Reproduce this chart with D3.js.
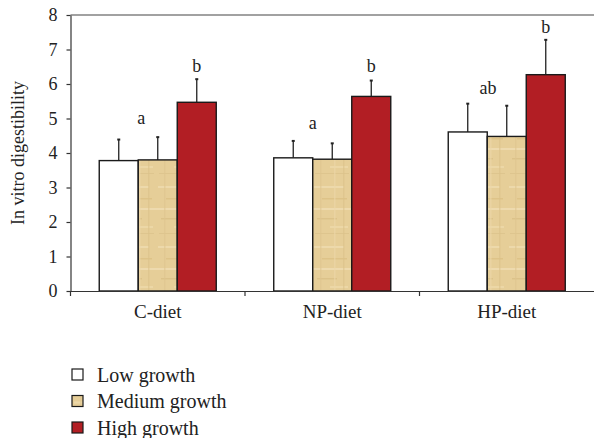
<!DOCTYPE html>
<html>
<head>
<meta charset="utf-8">
<script src="https://cdn.jsdelivr.net/npm/d3@7"></script>
<style>
  body { margin: 0; background: #fff; }
  svg { display: block; font-family: "Liberation Serif", "DejaVu Serif", serif; }
</style>
</head>
<body>
<svg id="chart" width="594" height="438"></svg>
<script>
const width = 594;
const height = 438;

const diets = ["C-diet", "NP-diet", "HP-diet"];
const groups = ["Low growth", "Medium growth", "High growth"];

// mean values per diet and growth group
const lowValues = [3.78, 3.86, 4.61];
const mediumValues = [3.80, 3.82, 4.48];
const highValues = [5.47, 5.64, 6.27];

// upper end of the error bars
const lowErr = [4.39, 4.35, 5.43];
const mediumErr = [4.46, 4.28, 5.37];
const highErr = [6.14, 6.10, 7.28];

// significance letters, the value height where they sit,
// and their place across the group (in bar widths from the first bar)
const letterText = [["a", "b"], ["a", "b"], ["ab", "b"]];
const letterAt = [[5.0, 6.52], [4.87, 6.52], [5.88, 7.65]];
const letterPlace = [[1.08, 2.5], [1.0, 2.5], [1.02, 2.5]];

const yTicks = [0, 1, 2, 3, 4, 5, 6, 7, 8];

const margin = { top: 15, right: 0, bottom: 147, left: 70.5 };
const svg = d3.select("#chart");

const x = d3.scaleBand()
  .domain(diets)
  .range([margin.left, width - margin.right]);

const xInner = d3.scaleBand()
  .domain(groups)
  .range([0, x.bandwidth()])
  .paddingOuter(0.737);

const y = d3.scaleLinear()
  .domain([0, 8])
  .range([height - margin.bottom, margin.top]);

const colors = { "Low growth": "#ffffff", "Medium growth": "url(#paper)", "High growth": "#b21e24" };

// paper-like texture for the medium bars
const defs = svg.append("defs");
const pat = defs.append("pattern")
  .attr("id", "paper")
  .attr("patternUnits", "userSpaceOnUse")
  .attr("width", 39).attr("height", 60);
pat.append("rect").attr("width", 39).attr("height", 60).attr("fill", "#e6ce98");
[[2, 6, 30, 2, "#efdcb0"], [10, 18, 25, 1.5, "#dcc185"], [0, 28, 39, 2, "#f0ddb4"],
 [5, 38, 20, 1.5, "#d9bf86"], [18, 46, 18, 2, "#eed9aa"], [3, 53, 34, 1, "#dcc38c"]]
  .forEach(r => pat.append("rect").attr("x", r[0]).attr("y", r[1])
    .attr("width", r[2]).attr("height", r[3]).attr("fill", r[4]).attr("opacity", 0.8));
[[8, "#dec58e"], [22, "#ecd7a8"], [31, "#dbc188"]]
  .forEach(v => pat.append("rect").attr("x", v[0]).attr("y", 0)
    .attr("width", 1.5).attr("height", 60).attr("fill", v[1]).attr("opacity", 0.6));

const data = [];
diets.forEach((diet, i) => {
  data.push({ diet, group: groups[0], value: lowValues[i], err: lowErr[i] });
  data.push({ diet, group: groups[1], value: mediumValues[i], err: mediumErr[i] });
  data.push({ diet, group: groups[2], value: highValues[i], err: highErr[i] });
});

// top line at the maximum
svg.append("line")
  .attr("x1", margin.left).attr("x2", width)
  .attr("y1", y(8)).attr("y2", y(8))
  .attr("stroke", "#444").attr("stroke-width", 1.2);

// error bars (upper only)
const eb = svg.append("g").attr("stroke", "#222").attr("stroke-width", 1.3);
data.forEach(d => {
  const cx = x(d.diet) + xInner(d.group) + xInner.bandwidth() / 2;
  eb.append("line").attr("x1", cx).attr("x2", cx).attr("y1", y(d.value)).attr("y2", y(d.err));
  eb.append("line").attr("x1", cx - 1.5).attr("x2", cx + 1.5).attr("y1", y(d.err)).attr("y2", y(d.err)).attr("stroke-width", 2);
});

// bars
svg.append("g").selectAll("rect")
  .data(data)
  .enter().append("rect")
  .attr("x", d => x(d.diet) + xInner(d.group))
  .attr("y", d => y(d.value))
  .attr("width", xInner.bandwidth())
  .attr("height", d => y(0) - y(d.value))
  .attr("fill", d => colors[d.group])
  .attr("stroke", "#1a1a1a")
  .attr("stroke-width", 1.4);

// letters
diets.forEach((diet, i) => {
  letterText[i].forEach((t, j) => {
    const cx = x(diet) + xInner(groups[0]) + letterPlace[i][j] * xInner.bandwidth();
    svg.append("text")
      .attr("x", cx)
      .attr("y", y(letterAt[i][j]))
      .attr("dy", "0.32em")
      .attr("text-anchor", "middle")
      .attr("font-size", 18)
      .attr("fill", "#222")
      .text(t);
  });
});

// y axis
const yAxis = svg.append("g")
  .attr("transform", `translate(${margin.left},0)`)
  .call(d3.axisLeft(y).tickValues(yTicks).tickSize(4).tickSizeOuter(0).tickFormat(d3.format("d")));
yAxis.select(".domain").attr("stroke", "#333").attr("stroke-width", 1.2);
yAxis.selectAll(".tick line").attr("stroke", "#333").attr("stroke-width", 1.2);
yAxis.selectAll(".tick text")
  .attr("font-size", 18).attr("fill", "#222")
  .attr("font-family", "Liberation Serif, serif")
  .attr("x", -13);

// x axis
const xAxis = svg.append("g")
  .attr("transform", `translate(0,${y(0)})`)
  .call(d3.axisBottom(x).tickSize(0).tickSizeOuter(0));
xAxis.select(".domain").attr("stroke", "#333").attr("stroke-width", 1.2);
xAxis.selectAll(".tick text")
  .attr("font-size", 19).attr("fill", "#222")
  .attr("font-family", "Liberation Serif, serif")
  .attr("y", 14)
  .attr("dy", "0.71em");
// boundary ticks between diets
const bounds = diets.map(d => x(d));
svg.append("g").selectAll("line")
  .data(bounds)
  .enter().append("line")
  .attr("x1", d => d).attr("x2", d => d)
  .attr("y1", y(0)).attr("y2", y(0) + 5)
  .attr("stroke", "#333").attr("stroke-width", 1.2);

// y axis title
svg.append("text")
  .attr("transform", `translate(18,${(y(0) + y(8)) / 2}) rotate(-90)`)
  .attr("dy", "0.32em")
  .attr("text-anchor", "middle")
  .attr("font-size", 18)
  .attr("fill", "#222")
  .text("In vitro digestibility");

// legend
const legend = svg.append("g").attr("transform", "translate(72,369)");
groups.forEach((g, i) => {
  const row = legend.append("g").attr("transform", `translate(0,${i * 26.5})`);
  row.append("rect")
    .attr("width", 11).attr("height", 11)
    .attr("fill", colors[g])
    .attr("stroke", "#1a1a1a").attr("stroke-width", 1.2);
  row.append("text")
    .attr("x", 25).attr("y", 5.5).attr("dy", "0.35em")
    .attr("font-size", 20).attr("fill", "#222")
    .text(g);
});
</script>
</body>
</html>
